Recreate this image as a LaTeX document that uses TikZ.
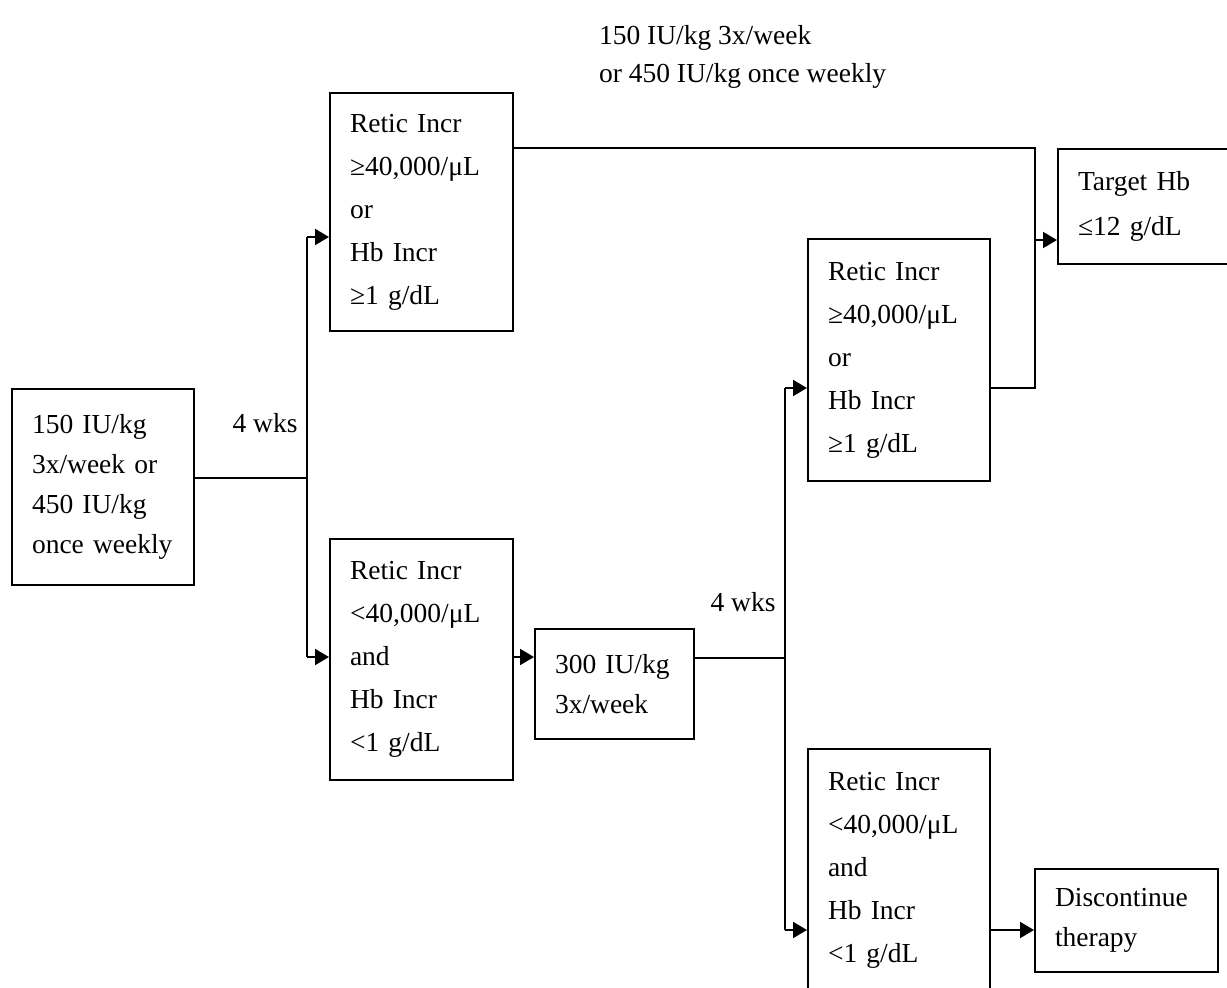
\documentclass[tikz,border=0pt]{standalone}
\usepackage{fontspec}
\setmainfont{Liberation Serif}
\usetikzlibrary{arrows.meta}
\begin{document}
\begin{tikzpicture}[x=1pt,y=-1pt,
  line width=2pt,
  box/.style={draw, line width=2pt, align=left, inner xsep=20pt, inner ysep=0pt,
    anchor=north west, font=\fontsize{27.5}{43}\selectfont},
  lbl/.style={inner sep=0pt, font=\fontsize{27.5}{38}\selectfont},
  arr/.style={-{Triangle[length=14pt,width=16pt]}}
]
\useasboundingbox[fill=white] (0,0) rectangle (1227,988);

% boxes
\node[box, text width=142pt, minimum height=196pt, font=\fontsize{27.5}{40}\selectfont] (A) at (11,388)
  {150 IU/kg\\3x/week or\\450 IU/kg\\once weekly};
\node[box, text width=143pt, minimum height=238pt] (B) at (329,92)
  {Retic Incr\\≥40,000/μL\\or\\Hb Incr\\≥1 g/dL};
\node[box, text width=143pt, minimum height=241pt] (C) at (329,538)
  {Retic Incr\\<40,000/μL\\and\\Hb Incr\\<1 g/dL};
\node[box, text width=119pt, minimum height=110pt, font=\fontsize{27.5}{40}\selectfont] (D) at (534,628)
  {300 IU/kg\\3x/week};
\node[box, text width=142pt, minimum height=242pt] (E) at (807,238)
  {Retic Incr\\≥40,000/μL\\or\\Hb Incr\\≥1 g/dL};
\node[box, text width=150pt, minimum height=115pt, font=\fontsize{27.5}{45}\selectfont] (F) at (1057,148)
  {Target Hb\\≤12 g/dL};
\node[box, text width=142pt, minimum height=242pt] (G) at (807,748)
  {Retic Incr\\<40,000/μL\\and\\Hb Incr\\<1 g/dL};
\node[box, text width=143pt, minimum height=103pt, font=\fontsize{27.5}{40}\selectfont] (H) at (1034,868)
  {Discontinue\\therapy};

% labels
\node[lbl, align=left, anchor=north west] (T) at (598,24)
  {150 IU/kg 3x/week\\or 450 IU/kg once weekly};
\node[lbl] (W1) at (265,423) {4 wks};
\node[lbl] (W2) at (743,602) {4 wks};

% junctions
\coordinate (jA) at (307,478);
\coordinate (jB) at (307,237);
\coordinate (jC) at (307,657);
\coordinate (jD) at (785,658);
\coordinate (jE) at (785,388);
\coordinate (jG) at (785,930);
\coordinate (jT) at (1035,148);
\coordinate (jF) at (1035,240);

% connectors
\draw (A.east |- jA) -- (jA);
\draw (jB) -- (jC);
\draw[arr] (jB) -- (B.west |- jB);
\draw[arr] (jC) -- (C.west |- jC);
\draw[arr] (C.east |- jC) -- (D.west |- jC);
\draw (D.east |- jD) -- (jD);
\draw (jE) -- (jG);
\draw[arr] (jE) -- (E.west |- jE);
\draw[arr] (jG) -- (G.west |- jG);
\draw[arr] (G.east |- jG) -- (H.west |- jG);
\draw (B.east |- jT) -- (jT) -- (jT |- jE) -- (E.east |- jE);
\draw[arr] (jF) -- (F.west |- jF);
\end{tikzpicture}
\end{document}
